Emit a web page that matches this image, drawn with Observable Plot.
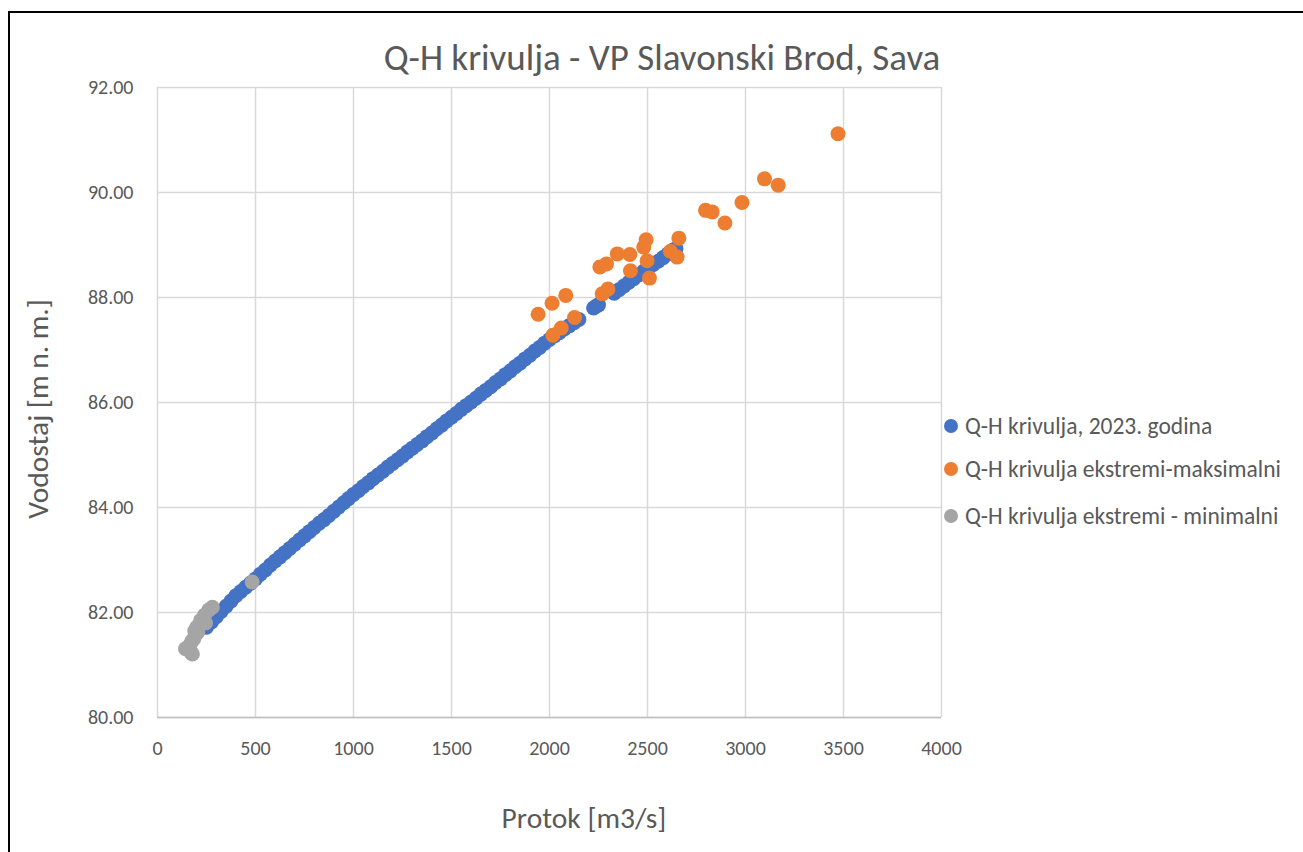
<!DOCTYPE html>
<html><head><meta charset="utf-8">
<script src="https://cdn.jsdelivr.net/npm/d3@7"></script>
<script src="https://cdn.jsdelivr.net/npm/@observablehq/plot@0.6"></script>
<style>
body{margin:0;background:#fff;width:1303px;height:852px;overflow:hidden;position:relative;font-family:Carlito,Lato,sans-serif;color:#595959}
#frame{position:absolute;left:8px;top:11px;width:1400px;height:1000px;border:2px solid #000;box-sizing:border-box}
#chart{position:absolute;left:0;top:0}
.lbl{position:absolute;white-space:nowrap;transform:translate(-50%,-50%)}
#title{left:662px;top:57px;font-size:37px}
#ytitle{left:38px;top:409px;font-size:29.5px;transform:translate(-50%,-50%) rotate(-90deg)}
#xtitle{left:584px;top:818px;font-size:29.5px}
.leg{position:absolute;left:944px;font-size:23.5px;white-space:nowrap;display:flex;align-items:center}
.leg span.sw{display:inline-block;width:14px;height:14px;border-radius:50%;margin-right:7px}
</style></head>
<body>
<div id="frame"></div>
<div id="chart"></div>
<div id="title" class="lbl"></div>
<div id="ytitle" class="lbl"></div>
<div id="xtitle" class="lbl"></div>
<div id="legend"></div>
<script>
const titleText = "Q-H krivulja - VP Slavonski Brod, Sava";
const xLabel = "Protok [m3/s]";
const yLabel = "Vodostaj [m n. m.]";
const seriesNames = ["Q-H krivulja, 2023. godina", "Q-H krivulja ekstremi-maksimalni", "Q-H krivulja ekstremi - minimalni"];
const seriesColors = ["#4472C4", "#ED7D31", "#A5A5A5"];
const xTicks = [0, 500, 1000, 1500, 2000, 2500, 3000, 3500, 4000];
const yTicks = [80, 82, 84, 86, 88, 90, 92];

// Q-H krivulja, 2023. godina
const blueQ = [250,275,300,325,350,375,400,425,450,475,500,525,550,575,600,625,650,675,700,725,750,775,800,825,850,875,900,925,950,975,1000,1025,1050,1075,1100,1125,1150,1175,1200,1225,1250,1275,1300,1325,1350,1375,1400,1425,1450,1475,1500,1525,1550,1575,1600,1625,1650,1675,1700,1725,1750,1775,1800,1825,1850,1875,1900,1925,1950,1975,2000,2025,2050,2075,2100,2125,2150,2225,2240,2250,2330,2355,2380,2405,2430,2455,2480,2505,2530,2555,2580,2605,2630,2645];
const blueH = [81.72,81.82,81.92,82.02,82.12,82.22,82.32,82.40,82.48,82.56,82.64,82.73,82.81,82.90,82.98,83.06,83.14,83.22,83.30,83.38,83.46,83.54,83.62,83.70,83.77,83.85,83.93,84.01,84.09,84.17,84.25,84.32,84.40,84.47,84.55,84.62,84.69,84.77,84.84,84.91,84.98,85.06,85.13,85.20,85.27,85.35,85.42,85.50,85.57,85.65,85.72,85.79,85.87,85.94,86.01,86.08,86.16,86.23,86.30,86.38,86.45,86.53,86.60,86.68,86.75,86.83,86.90,86.98,87.05,87.13,87.20,87.27,87.33,87.40,87.46,87.52,87.58,87.80,87.84,87.86,88.08,88.15,88.22,88.29,88.36,88.43,88.50,88.56,88.63,88.69,88.76,88.83,88.90,88.93];

// Q-H krivulja ekstremi-maksimalni
const orangeQ = [1942,2013,2083,2017,2060,2128,2257,2291,2269,2298,2346,2410,2413,2481,2493,2498,2510,2617,2651,2660,2796,2830,2895,2982,3097,3167,3472];
const orangeH = [87.68,87.89,88.04,87.28,87.42,87.62,88.58,88.64,88.07,88.16,88.83,88.82,88.51,88.96,89.10,88.70,88.37,88.88,88.77,89.13,89.66,89.63,89.42,89.81,90.26,90.14,91.12];

// Q-H krivulja ekstremi - minimalni
const grayQ = [143,170,178,165,175,185,195,190,205,200,215,220,235,245,240,262,280,483];
const grayH = [81.31,81.24,81.21,81.38,81.45,81.50,81.58,81.65,81.62,81.72,81.78,81.85,81.84,81.80,81.95,82.05,82.10,82.58];

const toRows = (qs, hs) => qs.map((q, i) => ({Q: q, H: hs[i]}));
const blue = toRows(blueQ, blueH), orange = toRows(orangeQ, orangeH), gray = toRows(grayQ, grayH);

const chart = Plot.plot({
  width: 1303, height: 852,
  marginLeft: 157, marginRight: 362, marginTop: 87, marginBottom: 135,
  style: {fontFamily: "Carlito, Lato, sans-serif", fontSize: "20px", color: "#595959", background: "transparent"},
  x: {domain: [0, 4000]},
  y: {domain: [80, 92]},
  marks: [
    Plot.gridX(xTicks, {stroke: "#d9d9d9", strokeOpacity: 1, strokeWidth: 1.5}),
    Plot.gridY(yTicks, {stroke: "#d9d9d9", strokeOpacity: 1, strokeWidth: 1.5}),
    Plot.ruleY([80], {stroke: "#bfbfbf", strokeWidth: 1.5}),
    Plot.axisX(xTicks, {tickSize: 0, tickPadding: 23, label: null, tickFormat: d => String(d), fill: "#595959"}),
    Plot.axisY(yTicks, {tickSize: 0, tickPadding: 24, label: null, tickFormat: d => d.toFixed(2), fill: "#595959"}),
    Plot.dot(blue, {x: "Q", y: "H", r: 7.5, fill: seriesColors[0], stroke: null}),
    Plot.dot(orange, {x: "Q", y: "H", r: 7.5, fill: seriesColors[1], stroke: null}),
    Plot.dot(gray, {x: "Q", y: "H", r: 7.5, fill: seriesColors[2], stroke: null})
  ]
});
document.getElementById("chart").appendChild(chart);
document.getElementById("title").textContent = titleText;
document.getElementById("xtitle").textContent = xLabel;
document.getElementById("ytitle").textContent = yLabel;
const legendTops = [427, 470, 517];
const leg = document.getElementById("legend");
seriesNames.forEach((name, i) => {
  const d = document.createElement("div");
  d.className = "leg";
  d.style.top = (legendTops[i] - 15) + "px";
  const sw = document.createElement("span");
  sw.className = "sw"; sw.style.background = seriesColors[i];
  const t = document.createElement("span");
  t.textContent = name;
  d.appendChild(sw); d.appendChild(t);
  leg.appendChild(d);
});
</script>
</body></html>
